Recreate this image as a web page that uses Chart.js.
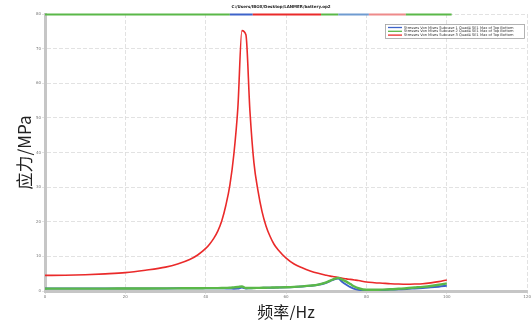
<!DOCTYPE html>
<html>
<head>
<meta charset="utf-8">
<script src="https://cdn.jsdelivr.net/npm/chart.js@4.4.1/dist/chart.umd.min.js"></script>
<style>
  html, body { margin: 0; padding: 0; background: #fff; }
  #wrap { width: 532px; height: 320px; }
</style>
</head>
<body>
<div id="wrap"><canvas id="c" width="532" height="320"></canvas></div>
<script>
// Frequency sweep (Hz)
const freq = [0,5,10,15,20,25,30,33,36,38,40,41,42,43,44,45,46,47,48,49,50,51,52,53,54,55,56,57,58,60,62,64,66,68,70,71,72,73,74,75,76,77,78,80,82,84,86,88,90,92,94,96,98,100];

// Von Mises stress response per subcase (MPa)
const subcase1 = [0.70,0.70,0.70,0.70,0.72,0.73,0.75,0.77,0.80,0.80,0.82,0.82,0.82,0.80,0.78,0.75,0.72,0.68,0.70,1.00,0.75,0.80,0.85,0.88,0.90,0.92,0.95,0.97,1.00,1.05,1.15,1.30,1.50,1.80,2.40,2.90,3.40,3.60,2.60,1.80,1.10,0.60,0.35,0.20,0.25,0.30,0.40,0.50,0.60,0.75,0.90,1.05,1.25,1.50];
const subcase2 = [0.70,0.70,0.70,0.70,0.72,0.73,0.75,0.77,0.80,0.80,0.82,0.83,0.84,0.84,0.85,0.90,0.95,1.05,1.15,1.30,0.85,0.85,0.88,0.90,0.92,0.95,0.98,1.00,1.03,1.10,1.20,1.35,1.55,1.85,2.50,3.00,3.50,3.80,3.30,2.70,2.00,1.30,0.80,0.35,0.35,0.40,0.50,0.65,0.80,1.00,1.20,1.45,1.80,2.20];
const subcase3 = [4.50,4.55,4.70,4.95,5.30,6.00,6.90,7.80,9.10,10.4,12.3,13.6,15.2,17.3,20.3,24.7,30.5,39.5,53.0,75.2,74.0,52.0,37.0,29.0,23.0,18.8,15.8,13.5,11.9,9.50,7.80,6.70,5.80,5.10,4.55,4.30,4.10,3.90,3.70,3.50,3.35,3.20,3.05,2.60,2.40,2.25,2.10,2.00,1.95,2.00,2.10,2.35,2.70,3.20];

const seriesLabels = [
  'Stresses Von Mises Subcase 1 Quad4 SE1 Max of Top Bottom',
  'Stresses Von Mises Subcase 2 Quad4 SE1 Max of Top Bottom',
  'Stresses Von Mises Subcase 3 Quad4 SE1 Max of Top Bottom'
];
const seriesColors = ['#3d63c9', '#5ab848', '#ea2a2a'];

const xTickStep = 20, xMax = 120;
const yTickStep = 10, yMax = 80;

// Coloured strip along the upper frame: [fromHz, toHz, colour]
const topBand = [
  [0, 46, '#5ab848'],
  [46, 51.7, '#3d63c9'],
  [51.7, 68.7, '#ea2a2a'],
  [68.7, 73, '#5ab848'],
  [73, 80.6, '#6f9bd0'],
  [80.6, 89.8, '#ee8a8a'],
  [89.8, 101.2, '#5ab848']
];

const fileTitle = 'C:/Users/IBOX/Desktop/LANMER/battery.op2';

function toPoints(vals) { return freq.map((f, i) => ({ x: f, y: vals[i] })); }

const extras = {
  id: 'extras',
  afterDatasetsDraw(chart) {
    const { ctx, chartArea: a, scales: { x } } = chart;
    ctx.save();
    // strip on the upper frame
    ctx.lineWidth = 2;
    topBand.forEach(([f0, f1, col]) => {
      ctx.strokeStyle = col;
      ctx.beginPath();
      ctx.moveTo(x.getPixelForValue(f0), a.top + 0.5);
      ctx.lineTo(x.getPixelForValue(f1), a.top + 0.5);
      ctx.stroke();
    });
    // file title
    ctx.fillStyle = '#222';
    ctx.font = 'bold 4px "DejaVu Sans"';
    ctx.textAlign = 'center';
    ctx.textBaseline = 'middle';
    ctx.fillText(fileTitle, (a.left + a.right) / 2 - 5, 7);
    // legend box
    const bx = 385, by = 24, bw = 139, bh = 14;
    ctx.fillStyle = '#fff';
    ctx.fillRect(bx, by, bw, bh);
    ctx.strokeStyle = '#a0a0a0';
    ctx.lineWidth = 0.8;
    ctx.strokeRect(bx + 0.5, by + 0.5, bw, bh);
    ctx.textAlign = 'left';
    ctx.font = '3.6px "DejaVu Sans"';
    chart.data.datasets.forEach((ds, i) => {
      const yy = by + 3.5 + i * 3.8;
      ctx.strokeStyle = ds.borderColor;
      ctx.lineWidth = 1.3;
      ctx.beginPath();
      ctx.moveTo(bx + 3, yy);
      ctx.lineTo(bx + 17, yy);
      ctx.stroke();
      ctx.fillStyle = '#333';
      ctx.fillText(ds.label, bx + 19, yy + 0.2);
    });
    ctx.restore();
  }
};

const tickFont = { family: 'DejaVu Sans', size: 4 };

new Chart(document.getElementById('c'), {
  type: 'line',
  data: {
    datasets: [
      { label: seriesLabels[0], data: toPoints(subcase1), borderColor: seriesColors[0], borderWidth: 2, order: 2 },
      { label: seriesLabels[1], data: toPoints(subcase2), borderColor: seriesColors[1], borderWidth: 2.4, order: 1 },
      { label: seriesLabels[2], data: toPoints(subcase3), borderColor: seriesColors[2], borderWidth: 1.6, order: 3 }
    ]
  },
  options: {
    responsive: false,
    animation: false,
    layout: { padding: { top: 14, right: 2, left: 0, bottom: 0 } },
    elements: {
      point: { radius: 0 },
      line: { cubicInterpolationMode: 'monotone', fill: false }
    },
    plugins: { legend: { display: false }, tooltip: { enabled: false }, title: { display: false } },
    scales: {
      x: {
        type: 'linear', min: 0, max: xMax,
        ticks: { stepSize: xTickStep, font: tickFont, color: '#777', padding: 1, maxRotation: 0 },
        grid: { color: '#dadada', lineWidth: 0.8, tickLength: 3 },
        border: { color: '#c6c6c6', width: 3, dash: [4, 2] },
        title: { display: true, text: '频率/Hz', color: '#222',
                 font: { family: '"Noto Sans CJK SC"', size: 16, lineHeight: 1 },
                 padding: { top: 0, bottom: 0 } },
        afterFit(s) { s.height = 29; }
      },
      y: {
        type: 'linear', min: 0, max: yMax,
        ticks: { stepSize: yTickStep, font: tickFont, color: '#777', padding: 1 },
        grid: { color: '#dadada', lineWidth: 0.8, tickLength: 3 },
        border: { color: '#c6c6c6', width: 3, dash: [4, 2] },
        title: { display: true, text: '应力/MPa', color: '#222',
                 font: { family: '"Noto Sans CJK SC"', size: 17, lineHeight: 1 },
                 padding: { top: 16, bottom: 0 } },
        afterFit(s) { s.width = 45; }
      }
    }
  },
  plugins: [extras]
});
</script>
</body>
</html>
